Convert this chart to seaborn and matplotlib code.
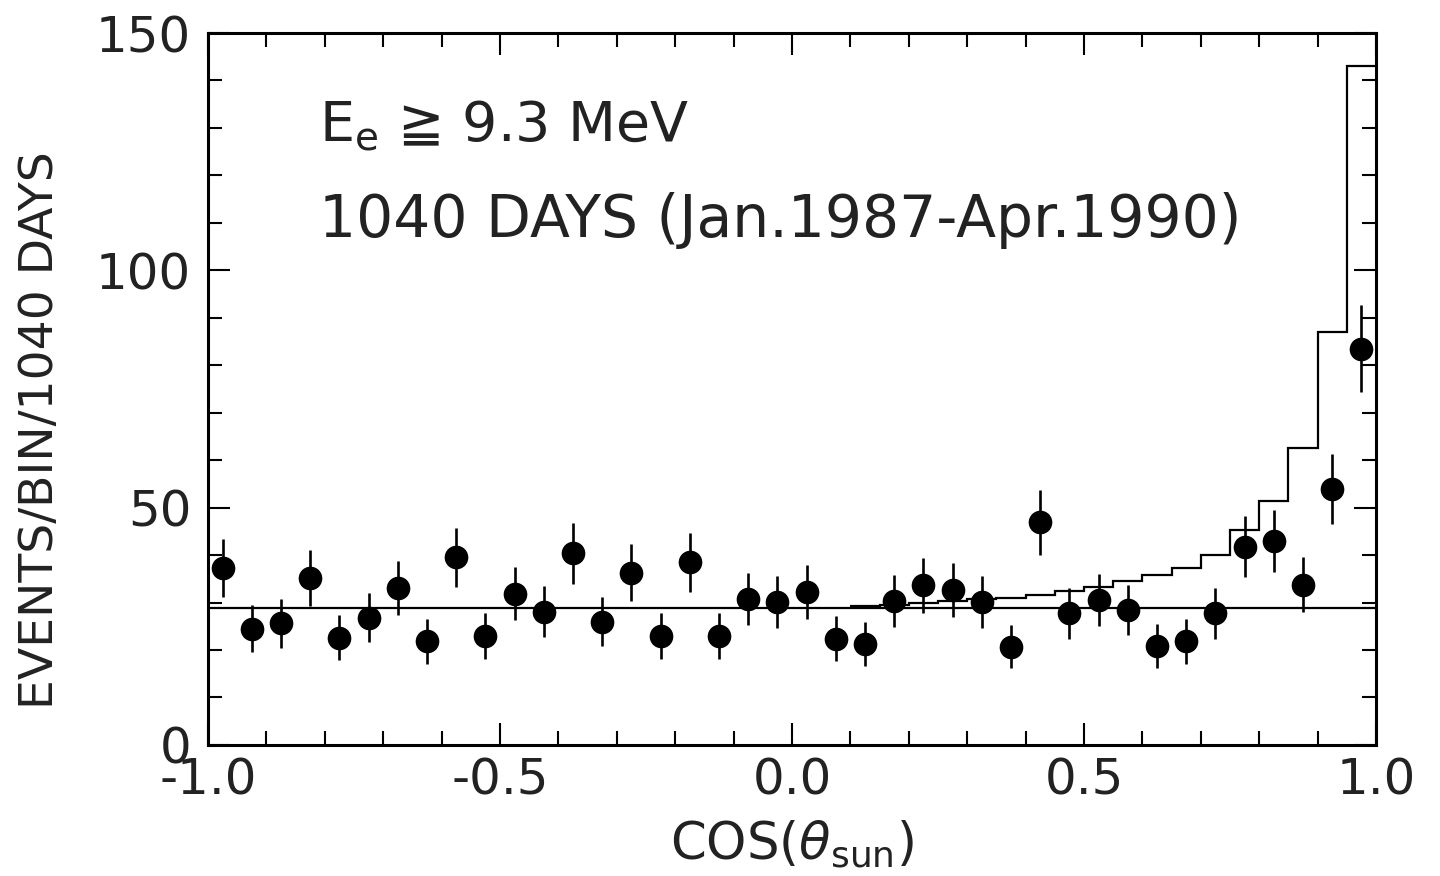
import numpy as np
import pandas as pd
import seaborn as sns
import matplotlib.pyplot as plt
from matplotlib.ticker import MultipleLocator

# cos(theta_sun) bin centres (40 bins of width 0.05)
cos_centers = [-0.975, -0.925, -0.875, -0.825, -0.775, -0.725, -0.675, -0.625,
               -0.575, -0.525, -0.475, -0.425, -0.375, -0.325, -0.275, -0.225,
               -0.175, -0.125, -0.075, -0.025, 0.025, 0.075, 0.125, 0.175,
               0.225, 0.275, 0.325, 0.375, 0.425, 0.475, 0.525, 0.575,
               0.625, 0.675, 0.725, 0.775, 0.825, 0.875, 0.925, 0.975]

# observed events per bin
events = [37.2, 24.5, 25.6, 35.1, 22.6, 26.8, 33.0, 21.8, 39.5, 23.0,
          31.9, 28.1, 40.4, 26.0, 36.3, 23.0, 38.5, 23.0, 30.8, 30.2,
          32.3, 22.4, 21.3, 30.4, 33.6, 32.7, 30.2, 20.7, 46.9, 27.7,
          30.6, 28.5, 20.9, 21.8, 27.7, 41.8, 42.9, 33.8, 53.9, 83.5]

errors = [6.1, 5.0, 5.1, 5.9, 4.8, 5.2, 5.7, 4.7, 6.3, 4.8,
          5.6, 5.3, 6.4, 5.1, 6.0, 4.8, 6.2, 4.8, 5.5, 5.5,
          5.7, 4.7, 4.6, 5.5, 5.8, 5.7, 5.5, 4.5, 6.8, 5.3,
          5.5, 5.3, 4.6, 4.7, 5.3, 6.5, 6.5, 5.8, 7.3, 9.1]

# flat background level
background = 28.9

# expected distribution (background + full SSM signal), bin edges and heights
expect_edges = [0.10, 0.15, 0.20, 0.25, 0.30, 0.35, 0.40, 0.45, 0.50, 0.55,
                0.60, 0.65, 0.70, 0.75, 0.80, 0.85, 0.90, 0.95, 1.00]
expect_vals = [29.3, 29.5, 30.0, 30.3, 30.7, 31.0, 31.6, 32.5, 33.3, 34.6,
               35.8, 37.3, 40.1, 45.3, 51.4, 62.6, 87.0, 143.0]

df = pd.DataFrame({"cos": cos_centers, "events": events, "err": errors})

sns.set_theme(style="ticks")
plt.rcParams['font.family'] = ['DejaVu Sans']
plt.rcParams['mathtext.fontset'] = 'dejavusans'

fig = plt.figure(figsize=(14.4, 8.76), dpi=100)
ax = fig.add_axes([0.1444, 0.1496, 0.8112, 0.8127])

ax.axhline(background, color='black', lw=1.6, zorder=2)
ax.stairs(expect_vals, expect_edges, color='black', lw=1.6, baseline=None, zorder=2)

ax.errorbar(df["cos"], df["events"], yerr=df["err"], fmt='none',
            ecolor='black', elinewidth=1.9, capsize=0, zorder=3)
sns.scatterplot(data=df, x="cos", y="events", ax=ax, color='black', s=290,
                edgecolor='black', linewidth=0, zorder=4, legend=False)

ax.set_xlim(-1.0, 1.0)
ax.set_ylim(0, 150)
ax.xaxis.set_major_locator(MultipleLocator(0.5))
ax.xaxis.set_minor_locator(MultipleLocator(0.1))
ax.yaxis.set_major_locator(MultipleLocator(50))
ax.yaxis.set_minor_locator(MultipleLocator(10))
ax.xaxis.set_major_formatter(lambda v, p: f"{v:.1f}")
ax.yaxis.set_major_formatter(lambda v, p: f"{v:.0f}")

ax.tick_params(which='both', direction='in', top=True, right=True,
               color='black', width=1.5, labelsize=36, labelcolor='#222222')
ax.tick_params(which='major', length=16)
ax.tick_params(which='minor', length=10)
ax.tick_params(axis='x', pad=8)
ax.tick_params(axis='y', pad=12)
for sp in ax.spines.values():
    sp.set_linewidth(2.2)
    sp.set_color('black')

ax.set_xlabel(r"COS($\theta_{\rm sun}$)", fontsize=37, color='#222222', labelpad=10)
ax.set_ylabel("EVENTS/BIN/1040 DAYS", fontsize=34, color='#222222')
ax.yaxis.set_label_coords(-0.124, 0.442)

ax.text(-0.81, 130.5, r"E$_{\rm e}$ ≧ 9.3 MeV", fontsize=40, color='#222222',
        va='center', ha='left')
ax.text(-0.81, 110.5, "1040 DAYS (Jan.1987-Apr.1990)", fontsize=42,
        color='#222222', va='center', ha='left')

fig.savefig("out.png", dpi=100, facecolor='white')
